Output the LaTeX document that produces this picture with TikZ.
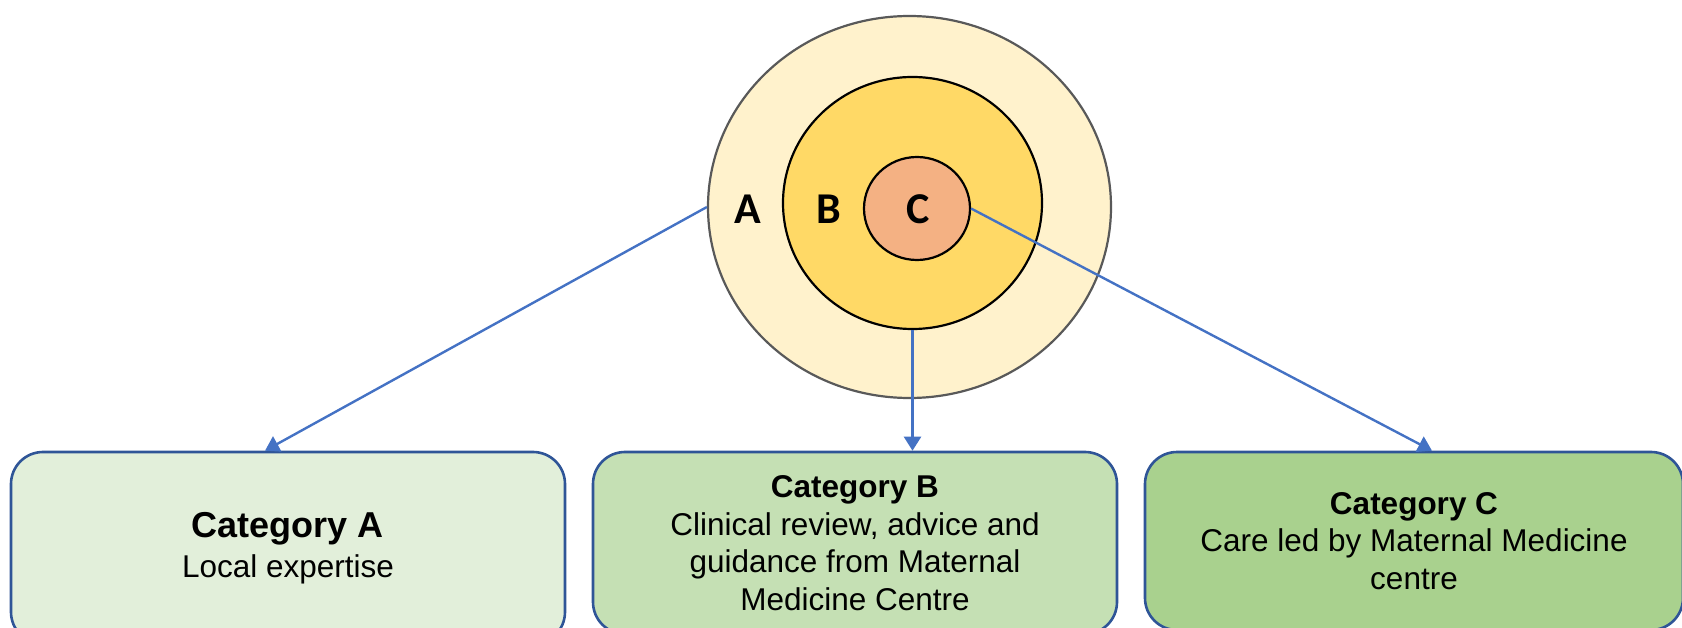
\documentclass[tikz,border=0pt]{standalone}
\usepackage{fontspec}
\setmainfont{Liberation Sans}
\newfontfamily\ringfont{Carlito}
\usetikzlibrary{positioning, arrows.meta, shapes.geometric, calc}
\definecolor{cRingA}{HTML}{FFF2CC}
\definecolor{cRingB}{HTML}{FFD966}
\definecolor{cRingC}{HTML}{F4B183}
\definecolor{cRingEdge}{HTML}{595959}
\definecolor{cBoxA}{HTML}{E2EFDA}
\definecolor{cBoxB}{HTML}{C5E0B4}
\definecolor{cBoxC}{HTML}{A9D18E}
\definecolor{cBoxEdge}{HTML}{2F5597}
\definecolor{cArrow}{HTML}{4472C4}

\begin{document}
\begin{tikzpicture}[
    x=1pt, y=-1pt,
    % --- Ring styles ---
    ring/.style={ellipse, draw=black, line width=2.2pt, inner sep=0pt},
    ringlbl/.style={font=\fontsize{44}{44}\selectfont\ringfont\bfseries, inner sep=0pt},
    % --- Box styles ---
    catbox/.style={
        draw=cBoxEdge, rounded corners=32pt, line width=2.6pt,
        align=center, font=\fontsize{31.5}{37.5}\selectfont
    },
    % --- Arrow styles ---
    arr/.style={-{Triangle[width=17pt,length=14pt]}, line width=2.4pt, draw=cArrow},
]

\useasboundingbox (0,0) rectangle (1682,628);

% =============================================
% CONCENTRIC RINGS
% =============================================

\node[ring, draw=cRingEdge, fill=cRingA, minimum width=403pt, minimum height=382pt] (ringA) at (909.5, 207) {};
\node[ring, fill=cRingB, minimum width=259pt, minimum height=252pt] (ringB) at (912.5, 203) {};
\node[ring, fill=cRingC, minimum width=106pt, minimum height=103pt] (ringC) at (917, 208.5) {};

\node[ringlbl] (labA) at (748, 209) {A};
\node[ringlbl] (labB) at (829, 209) {B};
\node[ringlbl] (labC) at (918, 209) {C};

% =============================================
% CATEGORY BOXES (tops at the same height, bottoms run off the page)
% =============================================

\node[catbox, fill=cBoxA, minimum width=554pt, minimum height=192pt,
      font=\fontsize{31.5}{40}\selectfont] (catA) at (288, 548) {
    {\fontsize{36}{40}\selectfont\bfseries Category A}\\
    Local expertise
};

\node[catbox, fill=cBoxB, minimum width=524pt, minimum height=182pt] (catB) at (855, 543) {
    \textbf{Category B}\\
    Clinical review, advice and\\
    guidance from Maternal\\
    Medicine Centre
};

\node[catbox, fill=cBoxC, minimum width=538pt, minimum height=178pt] (catC) at (1414, 541) {
    \textbf{Category C}\\
    Care led by Maternal Medicine\\
    centre
};

% =============================================
% ARROWS
% =============================================

\draw[arr] (ringA.west) -- ([xshift=-23pt]catA.north);
\draw[arr] (ringB.south) -- (ringB.south |- catB.north);
\draw[arr] (ringC.east) -- ([xshift=18pt]catC.north);

\end{tikzpicture}
\end{document}
